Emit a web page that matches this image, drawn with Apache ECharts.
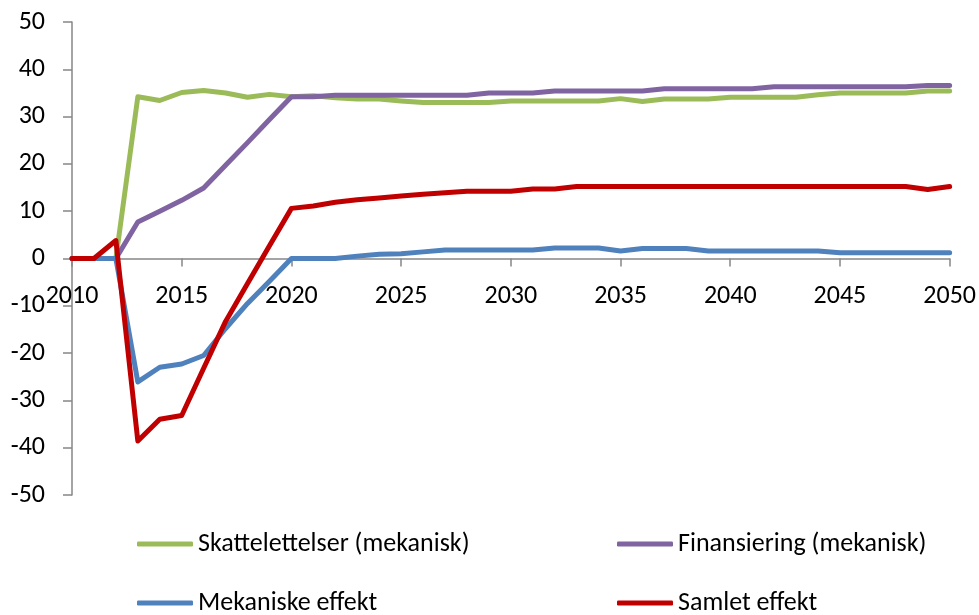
<!DOCTYPE html>
<html>
<head>
<meta charset="utf-8">
<script src="https://cdn.jsdelivr.net/npm/echarts@6/dist/echarts.min.js"></script>
<style>
  html, body { margin: 0; padding: 0; background: #fff; }
  #chart { width: 979px; height: 615px; }
</style>
</head>
<body>
<div id="chart"></div>
<script>
// aar 2010 - 2050
const years = ['2010','2011','2012','2013','2014','2015','2016','2017','2018','2019',
  '2020','2021','2022','2023','2024','2025','2026','2027','2028','2029',
  '2030','2031','2032','2033','2034','2035','2036','2037','2038','2039',
  '2040','2041','2042','2043','2044','2045','2046','2047','2048','2049','2050']

const skattelettelser = [0, 0, 0, 34.2, 33.4, 35.1, 35.5, 35.0, 34.1, 34.7,
  34.2, 34.4, 34.0, 33.7, 33.7, 33.3, 33.0, 33.0, 33.0, 33.0,
  33.3, 33.3, 33.3, 33.3, 33.3, 33.8, 33.2, 33.7, 33.7, 33.7,
  34.1, 34.1, 34.1, 34.1, 34.6, 35.0, 35.0, 35.0, 35.0, 35.4, 35.4]

const finansiering = [0, 0, 0, 7.7, 10.0, 12.3, 14.9, 19.7, 24.5, 29.4,
  34.2, 34.2, 34.5, 34.5, 34.5, 34.5, 34.5, 34.5, 34.5, 35.0,
  35.0, 35.0, 35.4, 35.4, 35.4, 35.4, 35.4, 35.9, 35.9, 35.9,
  35.9, 35.9, 36.3, 36.3, 36.3, 36.3, 36.3, 36.3, 36.3, 36.6, 36.6]

const mekaniske = [0, 0, 0, -26.1, -23.0, -22.3, -20.5, -14.8, -9.5, -4.8,
  0, 0, 0, 0.5, 0.9, 1.0, 1.4, 1.8, 1.8, 1.8,
  1.8, 1.8, 2.2, 2.2, 2.2, 1.6, 2.1, 2.1, 2.1, 1.6,
  1.6, 1.6, 1.6, 1.6, 1.6, 1.2, 1.2, 1.2, 1.2, 1.2, 1.2]

const samlet = [0, 0, 3.8, -38.6, -34.0, -33.2, -23.2, -13.3, -5.3, 2.7,
  10.6, 11.1, 11.9, 12.4, 12.8, 13.2, 13.6, 13.9, 14.2, 14.2,
  14.2, 14.7, 14.7, 15.2, 15.2, 15.2, 15.2, 15.2, 15.2, 15.2,
  15.2, 15.2, 15.2, 15.2, 15.2, 15.2, 15.2, 15.2, 15.2, 14.6, 15.2]

const names = ['Skattelettelser (mekanisk)', 'Finansiering (mekanisk)', 'Mekaniske effekt', 'Samlet effekt']
const colors = ['#9bbb59', '#8064a2', '#4f81bd', '#c00000']

const font = 'Carlito, Calibri, "Liberation Sans", sans-serif'
const axisGrey = '#868686'

// plot area: 22..495 px, zero line sits in the middle
const gridTop = 22
const gridBottom = 120
const zeroOffset = -(615 - gridTop - gridBottom) / 2

const chart = echarts.init(document.getElementById('chart'))

function legendAt(name, left, top) {
  return {
    data: [name],
    left: left,
    top: top,
    icon: 'roundRect',
    itemWidth: 56,
    itemHeight: 5,
    padding: 0,
    selectedMode: false,
    textStyle: { fontFamily: font, fontSize: 26, color: '#000' }
  }
}

function lineSeries(i, data) {
  return {
    name: names[i],
    type: 'line',
    data: data,
    showSymbol: false,
    symbol: 'none',
    lineStyle: { width: 5, color: colors[i], cap: 'round', join: 'round' },
    itemStyle: { color: colors[i] }
  }
}

chart.setOption({
  animation: false,
  legend: [
    legendAt(names[0], 137, 531),
    legendAt(names[1], 617, 531),
    legendAt(names[2], 137, 590),
    legendAt(names[3], 617, 590)
  ],
  grid: { left: 72, right: 29, top: gridTop, bottom: gridBottom, containLabel: false },
  xAxis: {
    type: 'category',
    data: years,
    boundaryGap: false,
    offset: zeroOffset,
    axisLine: { onZero: false, lineStyle: { color: axisGrey, width: 1.5 } },
    axisTick: { interval: 4, length: 8, lineStyle: { color: axisGrey, width: 1.5 } },
    axisLabel: { interval: 4, margin: 25, fontFamily: font, fontSize: 26, color: '#000' },
    splitLine: { show: false }
  },
  yAxis: {
    type: 'value',
    min: -50,
    max: 50,
    interval: 10,
    axisLine: { show: true, lineStyle: { color: axisGrey, width: 1.5 } },
    axisTick: { show: true, length: 9, lineStyle: { color: axisGrey, width: 1.5 } },
    axisLabel: { margin: 27, fontFamily: font, fontSize: 26, color: '#000' },
    splitLine: { show: false }
  },
  series: [
    lineSeries(0, skattelettelser),
    lineSeries(1, finansiering),
    lineSeries(2, mekaniske),
    lineSeries(3, samlet)
  ]
})
</script>
</body>
</html>
